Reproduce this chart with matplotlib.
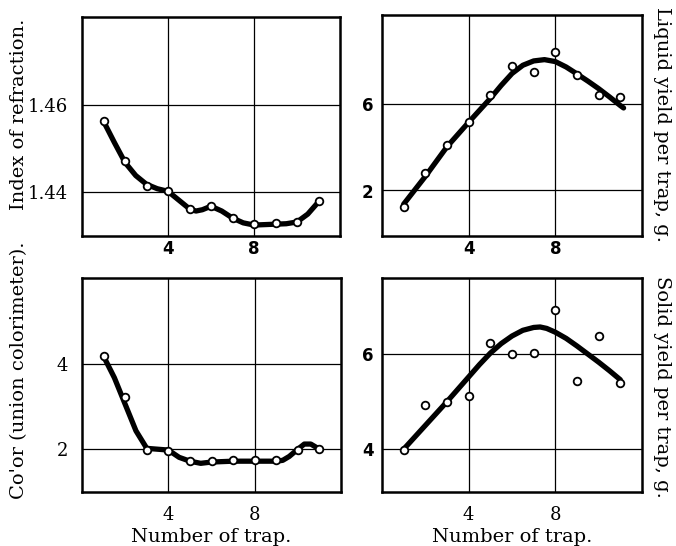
import numpy as np
import matplotlib.pyplot as plt

# So thu tu bay (trap number)
trap = [1, 2, 3, 4, 5, 6, 7, 8, 9, 10, 11]

# Chiet suat - diem do va duong cong
refr_pts = [1.4562, 1.4471, 1.4415, 1.4402, 1.4362, 1.4368, 1.4341, 1.4327, 1.4329, 1.4333, 1.4380]
refr_cx = [1, 1.5, 2, 2.5, 3, 3.5, 4, 4.5, 5, 5.3, 5.6, 6, 6.5, 7, 7.5, 8, 8.5, 9, 9.5, 10, 10.5, 11]
refr_cy = [1.4562, 1.4514, 1.4468, 1.4438, 1.4418, 1.4408, 1.4402, 1.4382, 1.4362, 1.4357, 1.4360,
           1.4368, 1.4357, 1.4341, 1.4330, 1.4325, 1.4326, 1.4327, 1.4328, 1.4332, 1.4350, 1.4378]

# San luong long
liq_pts = [1.26, 2.81, 4.10, 5.15, 6.40, 7.73, 7.45, 8.41, 7.34, 6.43, 6.32]
liq_cx = [1, 2, 3, 4, 4.5, 5, 5.5, 6, 6.5, 7, 7.5, 8, 8.5, 9, 9.5, 10, 10.5, 11, 11.15]
liq_cy = [1.37, 2.65, 4.02, 5.15, 5.7, 6.25, 6.85, 7.4, 7.78, 7.98, 8.04, 7.95, 7.7, 7.38,
          7.05, 6.7, 6.32, 5.92, 5.81]

# Mau sac
col_pts = [4.17, 3.22, 1.99, 1.96, 1.72, 1.72, 1.74, 1.74, 1.74, 1.98, 2.00]
col_cx = [1, 1.5, 2, 2.5, 3, 3.5, 4, 4.5, 5, 5.5, 6, 7, 8, 9, 9.3, 9.6, 10, 10.3, 10.6, 11]
col_cy = [4.17, 3.67, 3.05, 2.43, 2.02, 2.0, 1.98, 1.81, 1.72, 1.67, 1.70, 1.72, 1.72, 1.72, 1.74,
          1.83, 2.0, 2.12, 2.12, 2.0]

# San luong ran
sol_pts = [3.99, 4.93, 5.00, 5.11, 6.23, 6.00, 6.02, 6.93, 5.44, 6.39, 5.40]
sol_cx = [1, 2, 3, 4, 4.5, 5, 5.5, 6, 6.5, 7, 7.3, 7.6, 8, 8.5, 9, 9.5, 10, 10.5, 11]
sol_cy = [4.0, 4.5, 5.0, 5.52, 5.78, 6.02, 6.22, 6.38, 6.5, 6.56, 6.57, 6.54, 6.46, 6.33,
          6.17, 6.0, 5.83, 5.65, 5.46]

plt.rcParams['font.family'] = 'DejaVu Serif'
fig = plt.figure(figsize=(6.76, 5.46), dpi=100)

W, H = 676.0, 546.0
def khung(l, t, r, b):
    return fig.add_axes([l / W, 1 - b / H, (r - l) / W, (b - t) / H])

serif = dict(family='DejaVu Serif', size=13)
bold = dict(family='DejaVu Sans', size=12, weight='bold')

def ve(ax, cx, cy, pts, ylim, yt, ytl, yfont, xfont, xpad, ypad):
    ax.plot(cx, cy, color='black', lw=3.8, solid_joinstyle='round', solid_capstyle='round', zorder=3)
    ax.plot(trap, pts, 'o', ms=5.5, mfc='white', mec='black', mew=1.3, zorder=4)
    ax.set_xlim(0, 12)
    ax.set_ylim(*ylim)
    ax.set_xticks([4, 8])
    ax.set_xticklabels(['4', '8'], fontdict=xfont)
    ax.set_yticks(yt)
    ax.set_yticklabels(ytl, fontdict=yfont)
    ax.tick_params(length=0)
    ax.tick_params(axis='x', pad=xpad)
    ax.tick_params(axis='y', pad=ypad)
    ax.grid(True, color='black', lw=0.9)
    ax.set_axisbelow(True)
    for s in ax.spines.values():
        s.set_linewidth(1.8)

ax1 = khung(82, 17, 340, 236)
ve(ax1, refr_cx, refr_cy, refr_pts, (1.43, 1.48), [1.44, 1.46], ['1.44', '1.46'], serif, bold, 3, 10)

ax2 = khung(382, 15, 642, 236)
ve(ax2, liq_cx, liq_cy, liq_pts, (-0.1, 10.1), [2, 6], ['2', '6'], bold, bold, 3, 6)

ax3 = khung(82, 278, 341, 492)
ve(ax3, col_cx, col_cy, col_pts, (1, 6), [2, 4], ['2', '4'], serif, serif, 10, 10)
ax3.set_xlabel('Number of trap.', fontsize=14, labelpad=3)

ax4 = khung(382, 278, 642, 492)
ve(ax4, sol_cx, sol_cy, sol_pts, (3.1, 7.6), [4, 6], ['4', '6'], bold, serif, 10, 6)
ax4.set_xlabel('Number of trap.', fontsize=14, labelpad=3)

fig.text(19 / W, 1 - 114 / H, 'Index of refraction.', rotation=90, ha='center', va='center', fontsize=14)
fig.text(19 / W, 1 - 370 / H, "Co'or (union colorimeter).", rotation=90, ha='center', va='center', fontsize=14)
fig.text(662 / W, 1 - 125 / H, 'Liquid yield per trap, g.', rotation=270, ha='center', va='center', fontsize=14)
fig.text(662 / W, 1 - 387 / H, 'Solid yield per trap, g.', rotation=270, ha='center', va='center', fontsize=14)

fig.savefig('out.png', dpi=100)
